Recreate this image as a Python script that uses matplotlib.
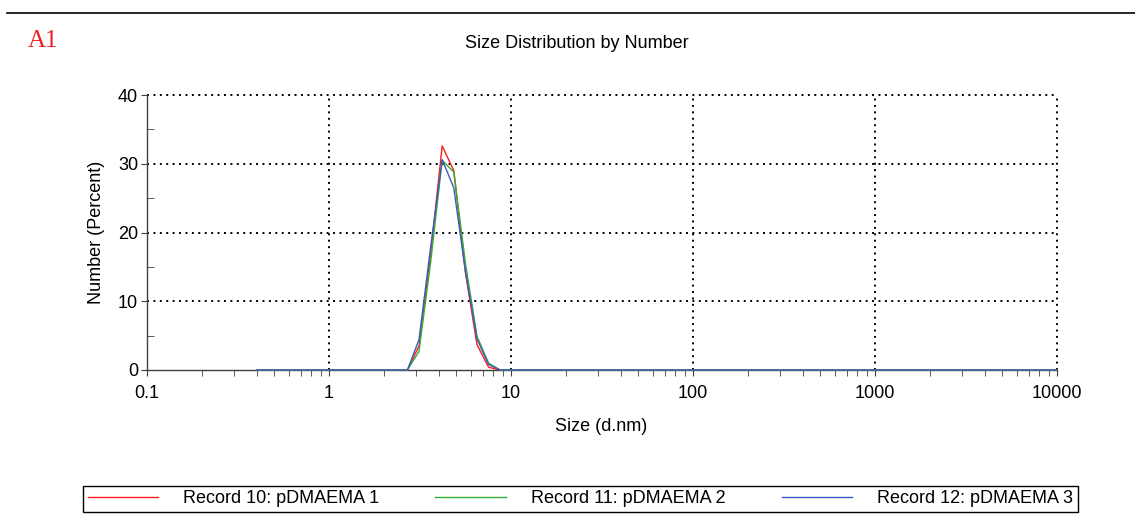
import matplotlib
matplotlib.use("Agg")
import matplotlib.pyplot as plt
from matplotlib.lines import Line2D
from matplotlib.ticker import FixedLocator, NullFormatter

plt.rcParams['font.family'] = ['Liberation Sans', 'DejaVu Sans']

# size bins (d.nm) where the curves are defined
sizes = [0.4, 2.696, 3.122, 3.615, 4.187, 4.849, 5.615, 6.503, 7.531, 8.721, 10000]
rec10 = [0, 0, 3.5, 16.8, 32.6, 29.0, 14.2, 3.7, 0.4, 0, 0]
rec11 = [0, 0, 2.7, 15.6, 30.5, 28.8, 15.6, 4.9, 1.0, 0, 0]
rec12 = [0, 0, 4.4, 17.8, 30.6, 26.5, 14.4, 4.5, 0.8, 0, 0]
labels = ["Record 10: pDMAEMA 1", "Record 11: pDMAEMA 2", "Record 12: pDMAEMA 3"]
colors = ["#ff1a1a", "#30b030", "#3a5cc0"]

x_ticks = [0.1, 1, 10, 100, 1000, 10000]
x_ticklabels = ["0.1", "1", "10", "100", "1000", "10000"]
y_ticks = [0, 10, 20, 30, 40]

W, H = 1135, 523
fig = plt.figure(figsize=(W / 100, H / 100), dpi=100)
ax = fig.add_axes([147 / W, 1 - 370 / H, 910 / W, 275 / H])

for ys, c, lab in zip([rec10, rec11, rec12], colors, labels):
    ax.plot(sizes, ys, color=c, lw=1.0, label=lab, clip_on=False, zorder=3)

ax.set_xscale('log')
ax.set_xlim(0.1, 10000)
ax.set_ylim(0, 40)

ax.xaxis.set_major_locator(FixedLocator(x_ticks))
ax.set_xticklabels(x_ticklabels)
ax.xaxis.set_minor_locator(FixedLocator(
    [m * 10.0 ** e for e in range(-1, 4) for m in range(2, 10)]))
ax.xaxis.set_minor_formatter(NullFormatter())
ax.set_yticks(y_ticks)
ax.yaxis.set_minor_locator(FixedLocator([5, 15, 25, 35]))

ax.tick_params(axis='both', which='major', labelsize=13, length=4,
               color='#404040', direction='out')
ax.tick_params(axis='x', which='major', pad=7)
ax.tick_params(axis='y', which='major', pad=2.5)
ax.tick_params(axis='x', which='minor', length=4, color='#404040', direction='out')
ax.tick_params(axis='y', which='minor', length=5, color='#404040', direction='in')

for s in ['top', 'right']:
    ax.spines[s].set_visible(False)
for s in ['left', 'bottom']:
    ax.spines[s].set_color('#404040')
    ax.spines[s].set_linewidth(1.0)

# dotted grid (no line at the axes themselves)
for xv in x_ticks[1:]:
    ax.axvline(xv, color='black', lw=1.4, ls=(0, (1, 2.3)), zorder=1, clip_on=False)
for yv in y_ticks[1:]:
    ax.axhline(yv, color='black', lw=1.4, ls=(0, (1, 2.3)), zorder=1, clip_on=False)

ax.set_xlabel("Size (d.nm)", fontsize=13)
ax.xaxis.label.set_va('center')
ax.xaxis.set_label_coords(0.499, -0.207)
ax.set_ylabel("Number (Percent)", fontsize=13)
ax.yaxis.label.set_va('center')
ax.yaxis.set_label_coords(-0.055, 0.5)

fig.text(577 / W, 1 - 43 / H, "Size Distribution by Number", fontsize=13,
         ha='center', va='center')
fig.text(28 / W, 1 - 41 / H, "A1", fontsize=18, color='#ee2020',
         family='Liberation Serif', ha='left', va='center')
fig.add_artist(Line2D([7 / W, 1], [1 - 13 / H, 1 - 13 / H], color='black', lw=1.2))

fig.legend(loc='lower left', ncol=3, mode='expand',
           bbox_to_anchor=(83 / W, 1 - 512 / H, 995 / W, 29 / H),
           frameon=True, fancybox=False, edgecolor='black', framealpha=1,
           fontsize=13, handlelength=3.9, handletextpad=1.4,
           borderaxespad=0, borderpad=0.25)

fig.savefig("out.png", dpi=100)
